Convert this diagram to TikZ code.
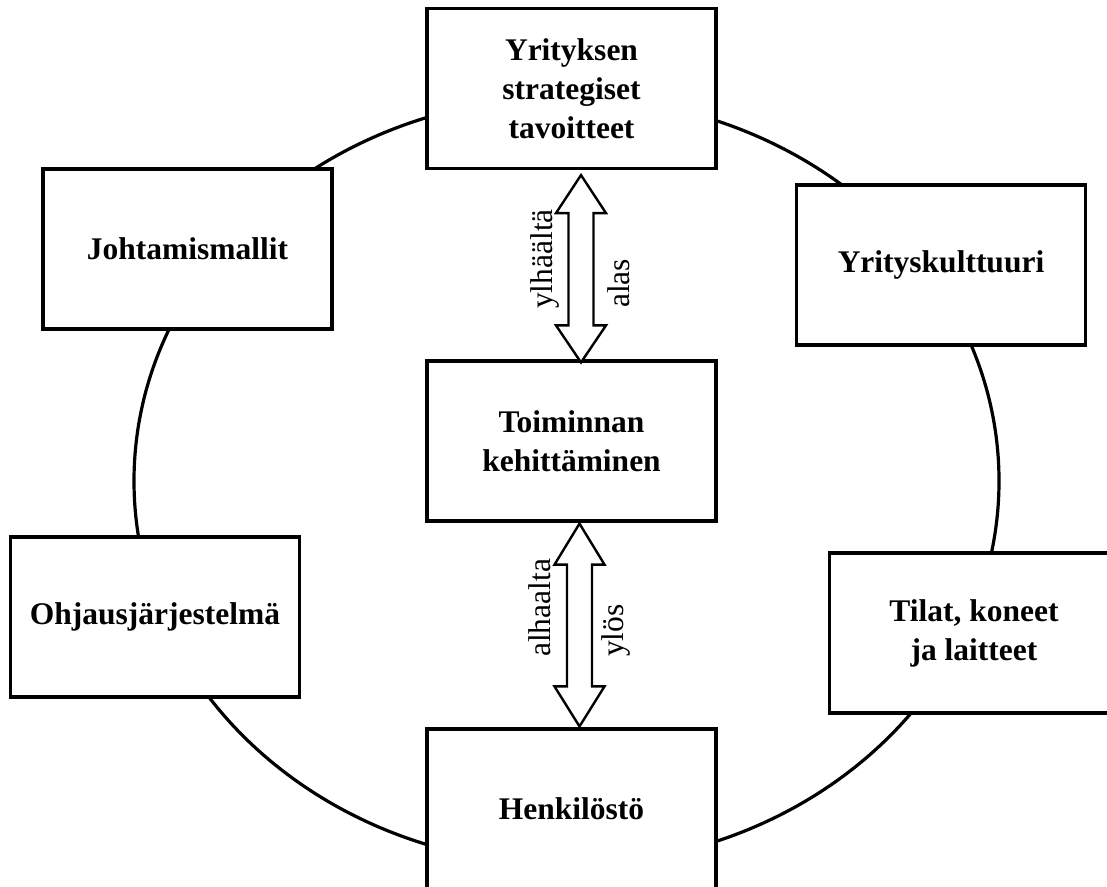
\documentclass[tikz,border=0pt]{standalone}
\usepackage{fontspec}
\setmainfont{Liberation Serif}
\usetikzlibrary{calc}
\begin{document}
\begin{tikzpicture}[x=1pt,y=-1pt,
  box/.style={draw, line width=3.2pt, fill=white, minimum width=289pt,
    minimum height=160pt, align=center, inner sep=0pt,
    font=\fontsize{31.5}{39}\selectfont\bfseries},
  ring/.style={line width=3.2pt},
  dblarrow/.style={draw, line width=2.4pt, fill=white, line join=miter},
  lbl/.style={font=\fontsize{31.5}{38}\selectfont, rotate=90, inner sep=0pt, anchor=base west}]
\useasboundingbox (0,0) rectangle (1107,886);
\clip (0,0) rectangle (1107,886);

% the ring linking the surrounding factors
\draw[ring] (566.5,481) ellipse [x radius=432.5, y radius=384];

% boxes on the ring
\node[box] (goals) at (571.5,88.5) {Yrityksen\\strategiset\\tavoitteet};
\node[box] (models) at (187.5,249) {Johtamismallit};
\node[box] (culture) at (941,265) {Yrityskulttuuri};
\node[box] (control) at (155,617) {Ohjausjärjestelmä};
\node[box] (premises) at (974,633) {Tilat, koneet\\ja laitteet};
\node[box] (staff) at (571.5,809) {Henkilöstö};

% central box
\node[box] (dev) at (571.5,441) {Toiminnan\\kehittäminen};

% double arrows between the centre and top / bottom
\coordinate (a1t) at ($(goals.south)+(9.5,5)$);
\coordinate (a1b) at ($(dev.north)+(9.5,3)$);
\coordinate (a2t) at ($(dev.south)+(8,1)$);
\coordinate (a2b) at ($(staff.north)+(8,-1)$);

\draw[dblarrow] (a1t) -- ++(25,38) -- ++(-12.5,0) -- ($(a1b)+(12.5,-37)$)
  -- ++(12.5,0) -- (a1b) -- ++(-25,-37) -- ++(12.5,0)
  -- ($(a1t)+(-12.5,38)$) -- ++(-12.5,0) -- cycle;
\draw[dblarrow] (a2t) -- ++(25,41) -- ++(-12.5,0) -- ($(a2b)+(12.5,-40)$)
  -- ++(12.5,0) -- (a2b) -- ++(-25,-40) -- ++(12.5,0)
  -- ($(a2t)+(-12.5,41)$) -- ++(-12.5,0) -- cycle;

% arrow labels
\node[lbl] (down1) at (552,309) {ylhäältä};
\node[lbl] (down2) at (629,308) {alas};
\node[lbl] (up1) at (550,657) {alhaalta};
\node[lbl] (up2) at (623,657) {ylös};
\end{tikzpicture}
\end{document}
